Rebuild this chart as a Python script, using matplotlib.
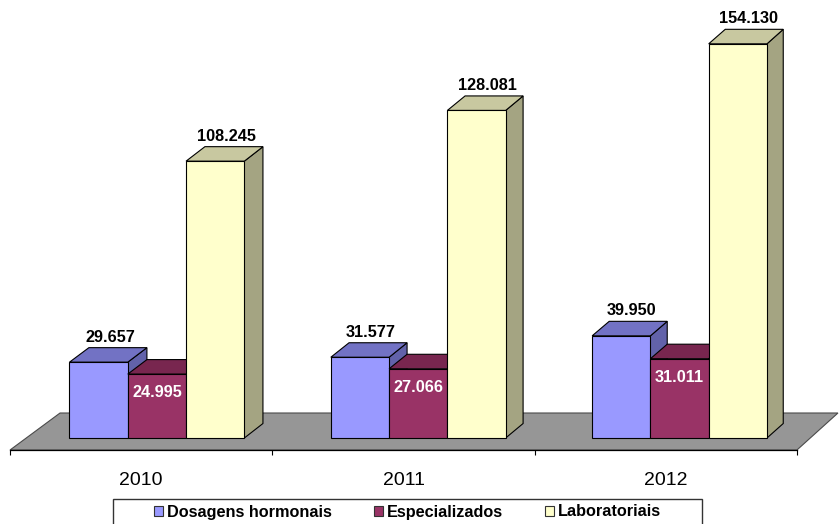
import matplotlib
matplotlib.use('Agg')
import matplotlib.pyplot as plt
from matplotlib.patches import Polygon, Patch, Rectangle

plt.rcParams['font.family'] = ['Liberation Sans', 'DejaVu Sans']

# ==============================
# Data
# ==============================
years = ['2010', '2011', '2012']
series_names = ['Dosagens hormonais', 'Especializados', 'Laboratoriais']
dosagens = [29657, 31577, 39950]
especializados = [24995, 27066, 31011]
laboratoriais = [108245, 128081, 154130]
series_values = [dosagens, especializados, laboratoriais]

# colours: front, top, side
face_colors = ['#9999FF', '#993366', '#FFFFCC']
top_colors = ['#7272C4', '#78264F', '#C8C8A0']
side_colors = ['#6262AA', '#66203F', '#A4A482']
label_colors = ['black', 'white', 'black']

# ==============================
# Fake 3D geometry (oblique projection in data units)
# ==============================
PX_X = 262.3        # pixels per category
PX_V = 391.0        # value units per pixel
DX_L = 50 / PX_X    # floor depth shift, left end
DX_R = 41 / PX_X    # floor depth shift, right end
DY = 37 * PX_V      # floor depth shift, vertical
Z0, Z1 = 0.324, 0.716   # bar front / back depth on the floor
BAR_W = 0.223

def proj(x, v, z):
    dx = DX_L + (DX_R - DX_L) * (x + 0.5) / len(years)
    return x + z * dx, v + z * DY

fig = plt.figure(figsize=(8.4, 5.24), dpi=100)
ax = fig.add_axes([0, 0, 1, 1])
ax.set_xlim(-141.2 / PX_X, (840 - 141.2) / PX_X)
ax.set_ylim(-74 * PX_V, 450 * PX_V)

# floor
n = len(years)
floor = [proj(-0.5, 0, 0), proj(n - 0.5, 0, 0), proj(n - 0.5, 0, 1), proj(-0.5, 0, 1)]
ax.add_patch(Polygon(floor, closed=True, facecolor='#969696', edgecolor='#4a4a4a',
                     lw=0.8, zorder=1))

# bars
for i in range(n):
    for j, vals in enumerate(series_values):
        v = vals[i]
        x0 = i + (j - 1.5) * BAR_W
        x1 = x0 + BAR_W
        side = [proj(x1, 0, Z0), proj(x1, 0, Z1), proj(x1, v, Z1), proj(x1, v, Z0)]
        top = [proj(x0, v, Z0), proj(x1, v, Z0), proj(x1, v, Z1), proj(x0, v, Z1)]
        front = [proj(x0, 0, Z0), proj(x1, 0, Z0), proj(x1, v, Z0), proj(x0, v, Z0)]
        for poly, c in [(side, side_colors[j]), (top, top_colors[j]), (front, face_colors[j])]:
            ax.add_patch(Polygon(poly, closed=True, facecolor=c, edgecolor='black',
                                 lw=0.8, zorder=2))

        label = f'{v:,}'.replace(',', '.')
        xc = x0 + BAR_W / 2
        if j == 1:
            ax.annotate(label, xy=proj(xc, v, Z0), xytext=(0, -23), textcoords='offset pixels',
                        ha='center', va='baseline', fontsize=11.7, fontweight='bold',
                        color=label_colors[j], zorder=5)
        else:
            xm = proj(xc, v, (Z0 + Z1) / 2)[0]
            yb = proj(xc, v, Z1)[1]
            ax.annotate(label, xy=(xm, yb), xytext=(2, 6), textcoords='offset pixels',
                        ha='center', va='baseline', fontsize=11.7, fontweight='bold',
                        color=label_colors[j], zorder=5)

# category axis
for s in ['left', 'right', 'top']:
    ax.spines[s].set_visible(False)
ax.spines['bottom'].set_position(('data', 0))
ax.spines['bottom'].set_bounds(-0.5, n - 0.5)
ax.spines['bottom'].set_linewidth(0.9)
ax.spines['bottom'].set_zorder(3)
ax.set_xticks([k - 0.5 for k in range(n + 1)])
ax.set_xticklabels([])
ax.set_xticks(range(n), minor=True)
ax.set_xticklabels(years, minor=True, fontsize=14)
ax.tick_params(axis='x', which='major', direction='out', length=3.6, width=0.8)
ax.tick_params(axis='x', which='minor', length=0, pad=15.5)
ax.set_yticks([])
ax.patch.set_visible(False)

# legend
handles = [Patch(facecolor=c, edgecolor='#333333', lw=0.8) for c in face_colors]
fig.legend(handles, series_names, loc='center', bbox_to_anchor=(407.5 / 840, 1 - 512 / 524),
           ncol=3, frameon=False, prop={'size': 11.7, 'weight': 'bold'},
           handlelength=0.55, handleheight=0.55, handletextpad=0.25, columnspacing=2.6)
fig.add_artist(Rectangle((113 / 840, -10 / 524), 589 / 840, 35 / 524, transform=fig.transFigure,
                         facecolor='none', edgecolor='#333333', lw=1.0))

plt.savefig('out.png', dpi=100)
